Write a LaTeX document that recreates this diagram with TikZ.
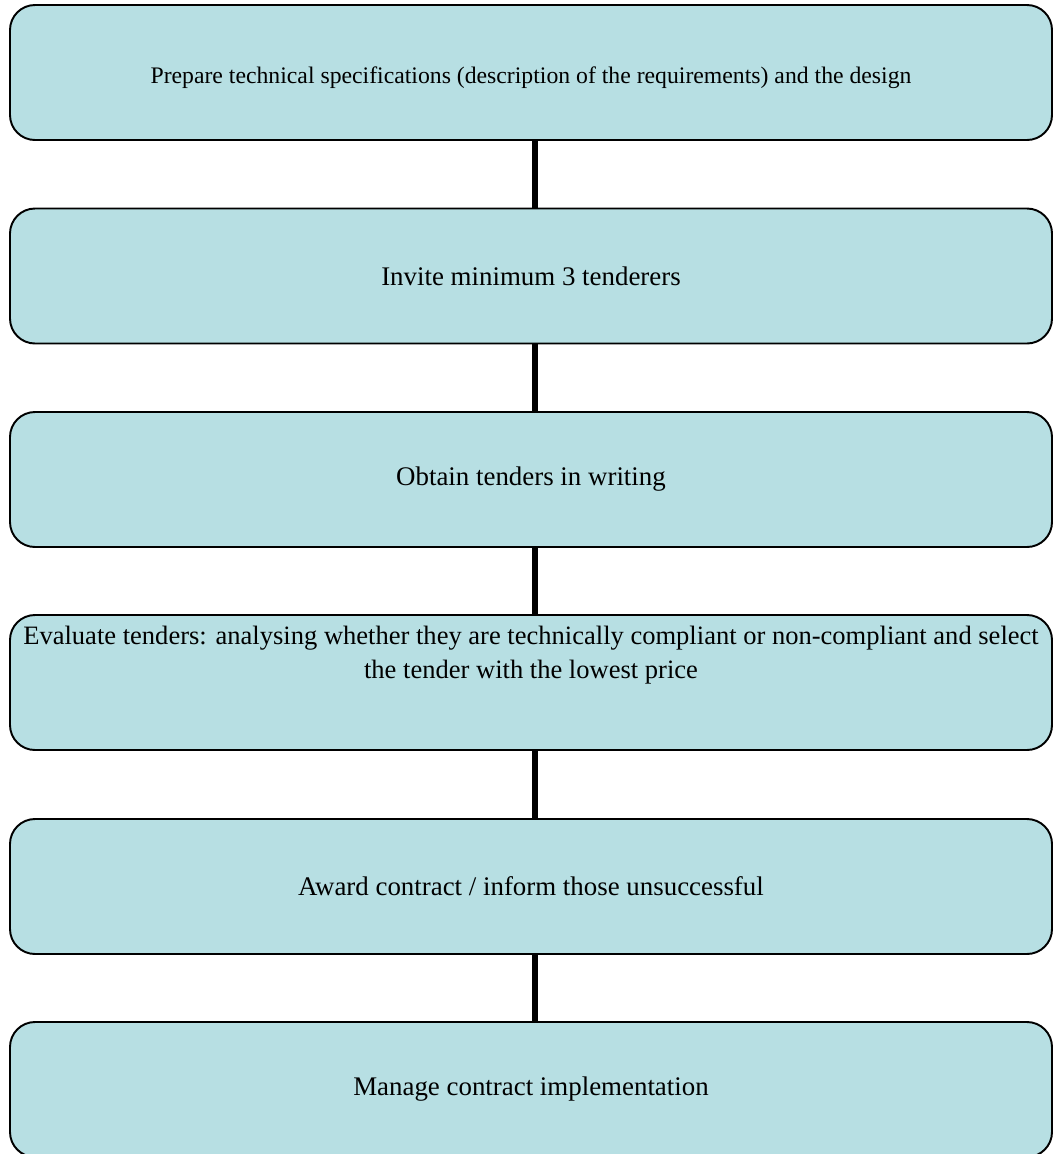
\documentclass[tikz,border=0pt]{standalone}
\usepackage{fontspec}
\setmainfont{Liberation Serif}
\usepackage{tikz}
\usetikzlibrary{positioning}
\definecolor{stepfill}{RGB}{183,223,227}

\begin{document}
\begin{tikzpicture}[
    stepbox/.style={draw, line width=1.1pt, rounded corners=0.5cm, fill=stepfill,
      minimum width=20.84cm, minimum height=2.7cm},
    steptext/.style={font=\fontsize{15.3}{19.3}\selectfont},
    link/.style={line width=3.4pt}]
      \useasboundingbox (0, 0) rectangle (21.22, -23.08);
      \clip (0, 0) rectangle (21.22, -23.08);
      \node [stepbox] (prepare) at (10.62, -1.45) {};
      \node [font=\fontsize{13.5}{16}\selectfont] at (10.62, -1.55) {Prepare technical specifications (description of the requirements) and the design};
      \node [stepbox] (invite) at (10.62, -5.52) {};
      \node [steptext] at (invite) {Invite minimum 3 tenderers};
      \node [stepbox] (obtain) at (10.62, -9.59) {};
      \node [steptext] at (obtain) {Obtain tenders in writing};
      \node [stepbox] (evaluate) at (10.62, -13.65) {};
      \node [font=\fontsize{15.1}{19.3}\selectfont, below=0.24cm of evaluate.north, anchor=north, inner sep=0pt, align=center]
        {Evaluate tenders: analysing whether they are technically compliant or non-compliant and select\\
         the tender with the lowest price};
      \node [stepbox] (award) at (10.62, -17.73) {};
      \node [steptext] at (award) {Award contract / inform those unsuccessful};
      \node [stepbox] (manage) at (10.62, -21.79) {};
      \node [steptext] at (manage) {Manage contract implementation};
      \draw [link] ([xshift=0.08cm]prepare.south) -- ([xshift=0.08cm]invite.north);
      \draw [link] ([xshift=0.08cm]invite.south) -- ([xshift=0.08cm]obtain.north);
      \draw [link] ([xshift=0.08cm]obtain.south) -- ([xshift=0.08cm]evaluate.north);
      \draw [link] ([xshift=0.08cm]evaluate.south) -- ([xshift=0.08cm]award.north);
      \draw [link] ([xshift=0.08cm]award.south) -- ([xshift=0.08cm]manage.north);
    \end{tikzpicture}
\end{document}
